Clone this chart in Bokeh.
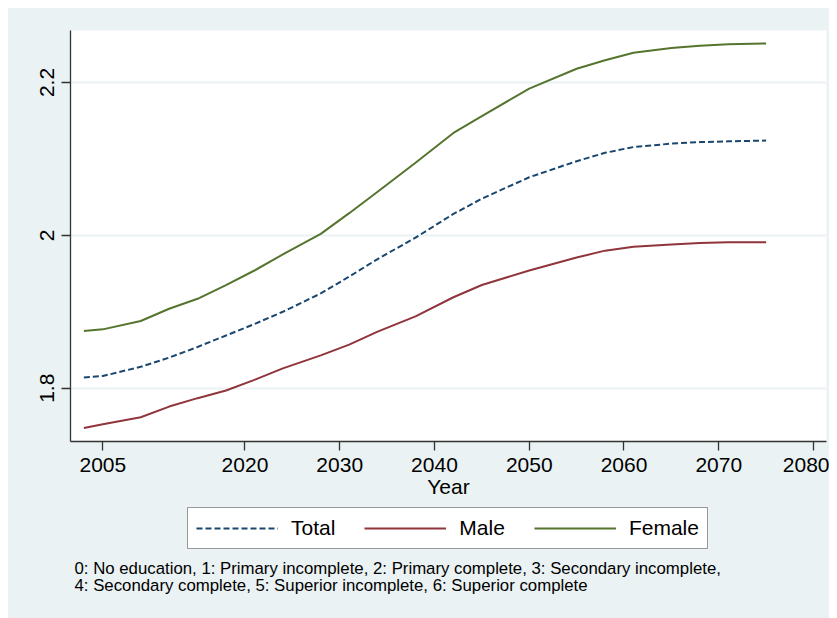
from bokeh.plotting import figure
from bokeh.models import Legend, LegendItem, Label, Range1d, FixedTicker, Spacer
from bokeh.layouts import row, column
from bokeh.embed import file_html
from bokeh.resources import INLINE

years = [2003, 2005, 2009, 2012, 2015, 2018, 2021, 2024, 2028, 2031, 2034,
         2038, 2042, 2045, 2050, 2055, 2058, 2061, 2065, 2068, 2071, 2075]
total = [1.814, 1.816, 1.828, 1.840, 1.854, 1.869, 1.884, 1.900, 1.924, 1.946, 1.969,
         1.997, 2.028, 2.048, 2.076, 2.097, 2.108, 2.1155, 2.120, 2.122, 2.123, 2.124]
male = [1.748, 1.753, 1.762, 1.776, 1.787, 1.797, 1.811, 1.826, 1.843, 1.857, 1.874,
        1.894, 1.919, 1.935, 1.954, 1.971, 1.980, 1.985, 1.988, 1.990, 1.991, 1.991]
female = [1.875, 1.877, 1.888, 1.904, 1.917, 1.935, 1.954, 1.975, 2.002, 2.029, 2.057,
          2.095, 2.134, 2.156, 2.192, 2.218, 2.229, 2.239, 2.245, 2.248, 2.250, 2.251]
x_ticks = [2005, 2020, 2030, 2040, 2050, 2060, 2070, 2080]
y_ticks = [1.8, 2.0, 2.2]
y_tick_labels = {1.8: "1.8", 2.0: "2", 2.2: "2.2"}
series_names = ["Total", "Male", "Female"]
series_colors = ["#1A476F", "#90353B", "#55752F"]
series_dash = ["6 3", "solid", "solid"]
note_lines = ["0: No education, 1: Primary incomplete, 2: Primary complete, 3: Secondary incomplete,",
              "4: Secondary complete, 5: Superior incomplete, 6: Superior complete"]

FONT = "Liberation Sans"
BG = "#EAF2F3"

# main chart
p = figure(width=821, height=497, output_backend="svg", toolbar_location=None,
           x_range=Range1d(2001.59, 2081.37), y_range=Range1d(1.7303, 2.268),
           min_border_left=62, min_border_top=22, min_border_right=3, min_border_bottom=64)
p.border_fill_color = BG
p.background_fill_color = "white"
p.outline_line_color = None

for ys, c, d in zip([total, male, female], series_colors, series_dash):
    p.line(years, ys, line_color=c, line_width=2, line_dash=d)

p.xgrid.visible = False
p.ygrid.grid_line_color = BG
p.ygrid.grid_line_width = 2
p.ygrid.ticker = FixedTicker(ticks=y_ticks)

for ax in (p.xaxis[0], p.yaxis[0]):
    ax.axis_line_color = "#333333"
    ax.axis_line_width = 1.3
    ax.major_tick_line_color = "#333333"
    ax.major_tick_line_width = 1.3
    ax.major_tick_out = 9
    ax.major_tick_in = 0
    ax.minor_tick_line_color = None
    ax.major_label_text_font = FONT
    ax.major_label_text_font_size = "21px"
    ax.major_label_text_color = "black"
    ax.major_label_standoff = 7

p.xaxis.ticker = FixedTicker(ticks=x_ticks)
p.yaxis.ticker = FixedTicker(ticks=y_ticks)
p.yaxis.major_label_overrides = y_tick_labels
p.yaxis.major_label_orientation = "vertical"
p.xaxis.axis_label = "Year"
p.xaxis.axis_label_text_font = FONT
p.xaxis.axis_label_text_font_size = "21px"
p.xaxis.axis_label_text_font_style = "normal"
p.xaxis.axis_label_text_color = "black"
p.xaxis.axis_label_standoff = 0

# legend + note panel (series drawn off-view only to feed the legend glyphs)
p2 = figure(width=821, height=113, output_backend="svg", toolbar_location=None,
            x_axis_type=None, y_axis_type=None,
            x_range=Range1d(0, 1), y_range=Range1d(0, 1),
            min_border_left=62, min_border_right=3, min_border_top=0, min_border_bottom=0)
p2.border_fill_color = BG
p2.background_fill_color = BG
p2.outline_line_color = None
p2.grid.visible = False

items = []
for name, ys, c, d in zip(series_names, [total, male, female], series_colors, series_dash):
    r = p2.line(years, ys, line_color=c, line_width=2, line_dash=d)
    items.append(LegendItem(label=name, renderers=[r]))

legend = Legend(items=items, orientation="horizontal", location=(117, 69), margin=0,
                padding=8, spacing=29, glyph_width=82, glyph_height=22, label_standoff=13,
                label_text_font=FONT, label_text_font_size="21px", label_text_color="black",
                border_line_color="#333333", border_line_width=1,
                background_fill_color="white", background_fill_alpha=1)
p2.add_layout(legend, "center")

for i, line in enumerate(note_lines):
    p2.add_layout(Label(x=4, y=50 - 17 * i, x_units="screen", y_units="screen", text=line,
                        text_font=FONT, text_font_size="16.8px", text_color="black",
                        text_baseline="middle", text_align="left"))

panel = column(p, p2, styles={"background-color": BG})
layout = column(Spacer(height=8), row(Spacer(width=8), panel))
open("out.html", "w").write(file_html(layout, INLINE))
